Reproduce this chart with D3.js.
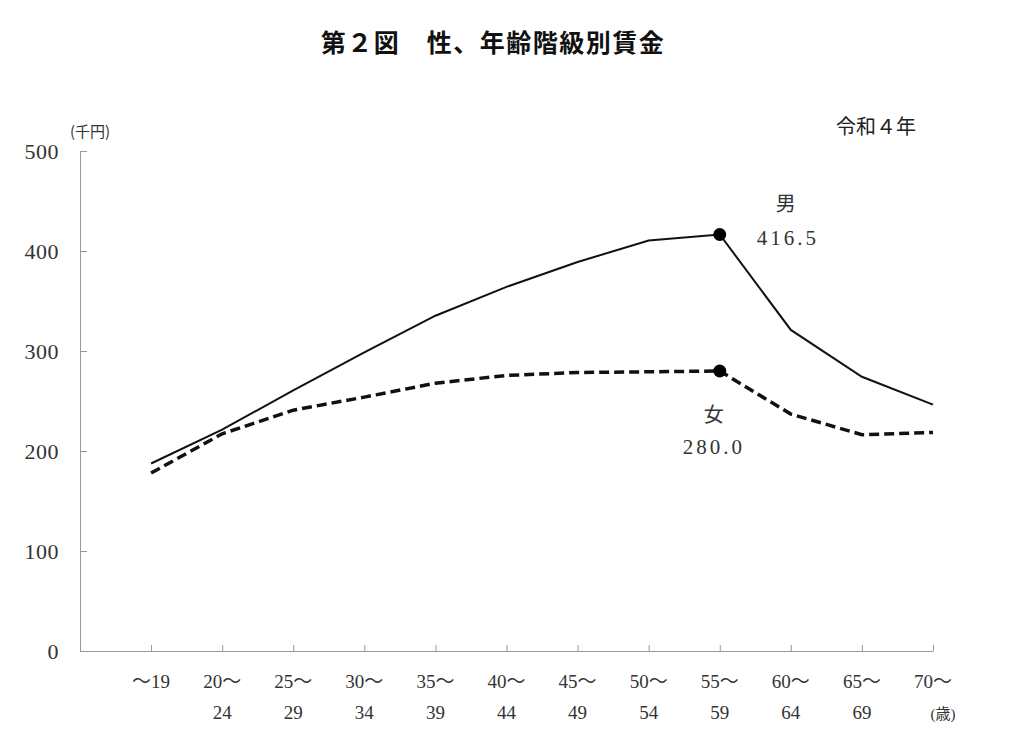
<!DOCTYPE html>
<html>
<head>
<meta charset="utf-8">
<script src="https://cdn.jsdelivr.net/npm/d3@7"></script>
<style>
  body { margin: 0; background: #fff; }
  svg text { font-family: "Liberation Serif", "Noto Sans CJK JP", serif; fill: #333; }
</style>
</head>
<body>
<div id="chart"></div>
<script>
// age groups (two-line tick labels)
var ageTop = ["～19", "20～", "25～", "30～", "35～", "40～", "45～", "50～", "55～", "60～", "65～", "70～"];
var ageBottom = ["", "24", "29", "34", "39", "44", "49", "54", "59", "64", "69", "(歳)"];

// wages, thousand yen
var maleWage = [187.5, 221.4, 260.6, 298.6, 335.3, 364.1, 389.0, 410.5, 416.5, 321.1, 274.2, 246.4];
var femaleWage = [178.0, 217.2, 240.8, 253.9, 267.8, 275.6, 278.5, 279.2, 280.0, 236.9, 216.3, 218.5];

var yTicks = [0, 100, 200, 300, 400, 500];

var width = 1024, height = 755;
var margin = {left: 80, right: 91, top: 151, bottom: 104};

var svg = d3.select("#chart")
    .append("svg")
    .attr("width", width)
    .attr("height", height);

// x: index -1 sits on the y axis, categories fall on the ticks
var x = d3.scaleLinear()
    .domain([-1, ageTop.length - 1])
    .range([margin.left, width - margin.right]);

var y = d3.scaleLinear()
    .domain([0, 500])
    .range([height - margin.bottom, margin.top]);

// title
svg.append("text")
    .attr("x", 493)
    .attr("y", 52)
    .attr("text-anchor", "middle")
    .style("font-family", "'Noto Sans CJK JP'")
    .style("font-weight", "bold")
    .style("font-size", "25px")
    .style("letter-spacing", "1.5px")
    .style("fill", "#111")
    .text("第２図　性、年齢階級別賃金");

svg.append("text")
    .attr("x", 876)
    .attr("y", 134)
    .attr("text-anchor", "middle")
    .style("font-family", "'Noto Sans CJK JP'")
    .style("font-size", "20px")
    .style("fill", "#222")
    .text("令和４年");

svg.append("text")
    .attr("x", 90)
    .attr("y", 137)
    .attr("text-anchor", "middle")
    .style("font-family", "'Noto Sans CJK JP'")
    .style("font-size", "15px")
    .text("(千円)");

// y axis
var yAxis = svg.append("g")
    .attr("transform", "translate(" + margin.left + ",0)")
    .call(d3.axisRight(y).tickValues(yTicks).tickSize(7).tickFormat(""));
yAxis.select(".domain").attr("stroke", "#999");
yAxis.selectAll(".tick line").attr("stroke", "#999");

svg.selectAll(".ylab")
    .data(yTicks)
    .enter()
    .append("text")
    .attr("class", "ylab")
    .attr("x", margin.left - 21)
    .attr("y", function(d) { return y(d); })
    .attr("dy", "0.35em")
    .attr("text-anchor", "end")
    .style("font-size", "22px")
    .style("letter-spacing", "0.5px")
    .text(function(d) { return d; });

// x axis
var xAxis = svg.append("g")
    .attr("transform", "translate(0," + y(0) + ")")
    .call(d3.axisTop(x).tickValues(d3.range(ageTop.length)).tickSize(6).tickSizeOuter(0).tickFormat(""));
xAxis.select(".domain").attr("stroke", "#999");
xAxis.selectAll(".tick line").attr("stroke", "#999");

svg.selectAll(".xlab1")
    .data(ageTop)
    .enter()
    .append("text")
    .attr("class", "xlab1")
    .attr("x", function(d, i) { return x(i); })
    .attr("y", 688)
    .attr("text-anchor", "middle")
    .style("font-size", "19px")
    .text(function(d) { return d; });

svg.selectAll(".xlab2")
    .data(ageBottom)
    .enter()
    .append("text")
    .attr("class", "xlab2")
    .attr("x", function(d, i) { return x(i) + (i == ageBottom.length - 1 ? 10 : 0); })
    .attr("y", 719)
    .attr("text-anchor", "middle")
    .style("font-size", function(d, i) { return i == ageBottom.length - 1 ? "15px" : "19px"; })
    .text(function(d) { return d; });

// lines
var line = d3.line()
    .x(function(d, i) { return x(i); })
    .y(function(d) { return y(d); });

svg.append("path")
    .datum(maleWage)
    .attr("d", line)
    .attr("fill", "none")
    .attr("stroke", "#111")
    .attr("stroke-width", 2);

svg.append("path")
    .datum(femaleWage)
    .attr("d", line)
    .attr("fill", "none")
    .attr("stroke", "#111")
    .attr("stroke-width", 3.5)
    .attr("stroke-dasharray", "10,5");

// highlighted point at 55~59
var peak = 8;
[maleWage, femaleWage].forEach(function(s) {
  svg.append("circle")
      .attr("cx", x(peak))
      .attr("cy", y(s[peak]))
      .attr("r", 6.5)
      .attr("fill", "#000");
});

svg.append("text")
    .attr("x", x(peak) + 66)
    .attr("y", y(maleWage[peak]) - 24)
    .attr("text-anchor", "middle")
    .style("font-family", "'Noto Sans CJK JP'")
    .style("font-size", "20px")
    .text("男");
svg.append("text")
    .attr("x", x(peak) + 68)
    .attr("y", y(maleWage[peak]) + 10)
    .attr("text-anchor", "middle")
    .style("font-size", "21px")
    .style("letter-spacing", "3px")
    .text(maleWage[peak].toFixed(1));

svg.append("text")
    .attr("x", x(peak) - 6)
    .attr("y", y(femaleWage[peak]) + 51)
    .attr("text-anchor", "middle")
    .style("font-family", "'Noto Sans CJK JP'")
    .style("font-size", "20px")
    .text("女");
svg.append("text")
    .attr("x", x(peak) - 6)
    .attr("y", y(femaleWage[peak]) + 83)
    .attr("text-anchor", "middle")
    .style("font-size", "21px")
    .style("letter-spacing", "3px")
    .text(femaleWage[peak].toFixed(1));
</script>
</body>
</html>
